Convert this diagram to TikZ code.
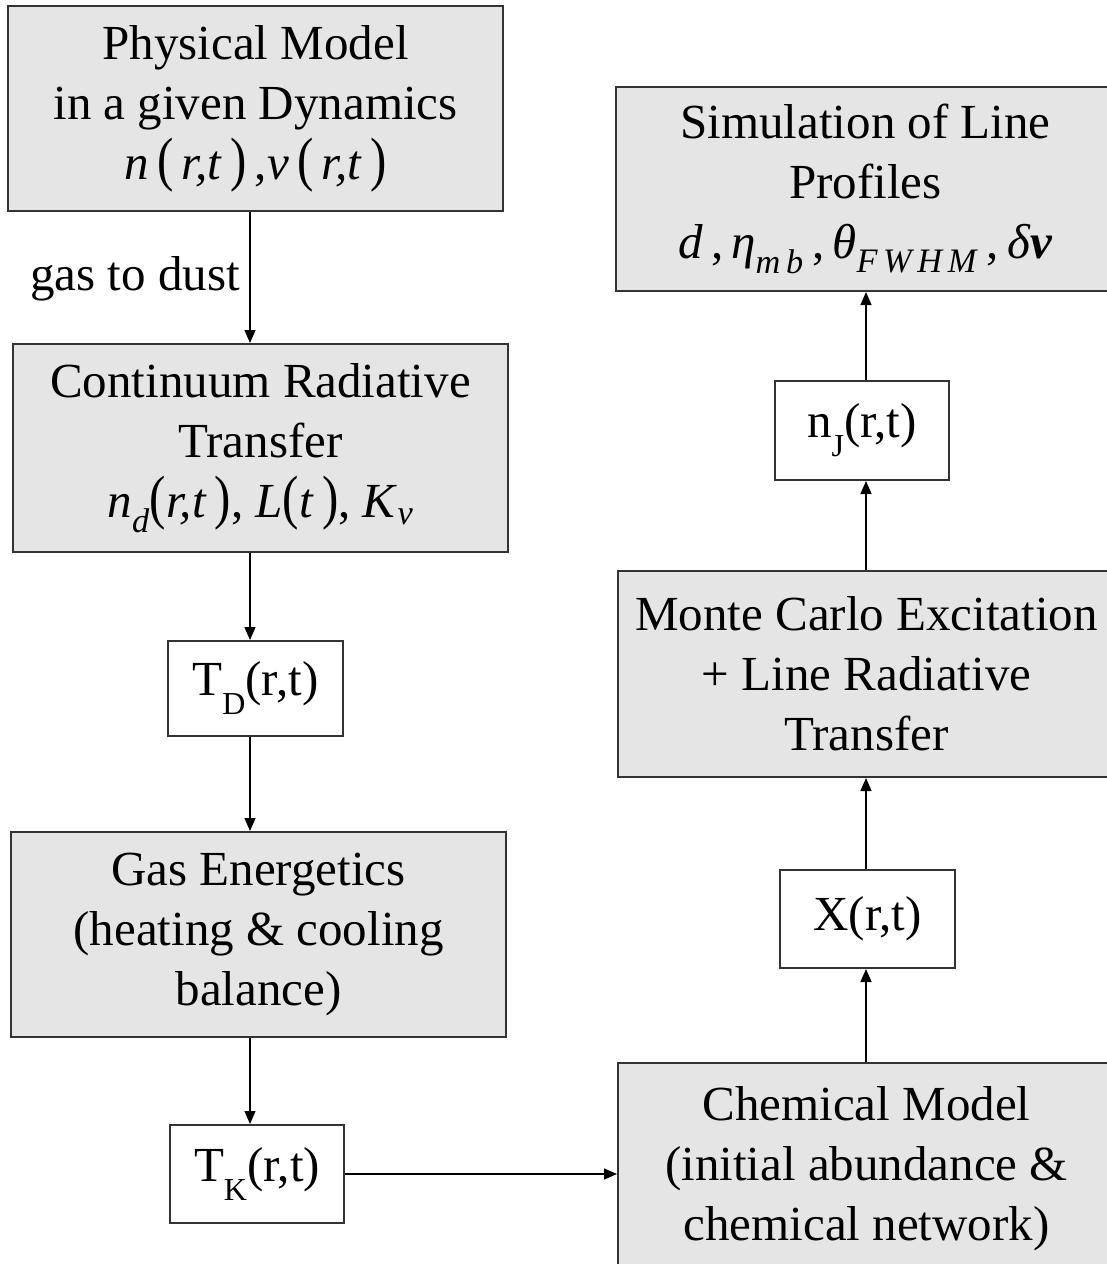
\documentclass[tikz,border=0pt]{standalone}
\usepackage{fontspec}
\usepackage{graphicx}
\setmainfont{Liberation Serif}
\usetikzlibrary{arrows.meta,calc}
\newcommand{\LPar}{\scalebox{1}[1.22]{(}}
\newcommand{\RPar}{\scalebox{1}[1.22]{)}}
\newcommand{\lowsub}[1]{\raisebox{-19pt}{\fontsize{32}{32}\selectfont #1}}
\tikzset{
  bigbox/.style={draw=black!80, line width=2pt, fill=black!10, rectangle, inner sep=0pt, align=center, font=\fontsize{49}{60}\selectfont},
  smallbox/.style={draw=black!80, line width=2pt, fill=white, rectangle, inner sep=0pt, align=center, font=\fontsize{49}{60}\selectfont},
  arr/.style={line width=1.3pt, -{Triangle[length=13pt,width=11pt]}},
  lbl/.style={inner sep=0pt, font=\fontsize{49}{60}\selectfont}
}
\begin{document}
\begin{tikzpicture}[x=1pt,y=-1pt]
\useasboundingbox (0,0) rectangle (1107,1264);
\clip (0,0) rectangle (1107,1264);
\fill[white] (0,0) rectangle (1107,1264);
\coordinate (colL) at (250,0);
\coordinate (colR) at (866,0);
% left column
\node[bigbox, minimum width=495pt, minimum height=205pt] (phys) at (255.5,108.5)
  {Physical Model\\in a given Dynamics\\\textit{n}\,\LPar\,\textit{r,t}\,\RPar\,,\textit{v}\,\LPar\,\textit{r,t}\,\RPar};
\node[bigbox, minimum width=495pt, minimum height=208pt] (cont) at (260.5,448)
  {Continuum Radiative\\Transfer\\\textit{n}\textsubscript{\textit{d}}\LPar\textit{r,t}\,\RPar, \textit{L}\LPar\textit{t}\,\RPar, \textit{K}\textsubscript{\textit{ν}}};
\node[smallbox, minimum width=175pt, minimum height=95pt] (TD) at (255.5,688.5)
  {T\lowsub{D}(r,t)};
\node[bigbox, minimum width=495pt, minimum height=205pt] (gas) at (258.5,934.5)
  {Gas Energetics\\(heating \& cooling\\balance)};
\node[smallbox, minimum width=174pt, minimum height=98pt] (TK) at (257,1174)
  {T\lowsub{K}(r,t)};
% right column
\node[bigbox, minimum width=499pt, minimum height=204pt] (sim) at (865.5,189)
  {Simulation of Line\\Profiles\\\textit{d}\,,\,\textit{η}\textsubscript{\textit{m\,b}}\,,\,\textit{θ}\textsubscript{\textit{F\,W\,H\,M}}\,,\,\textit{δ}\textbf{\textit{v}}};
\node[smallbox, minimum width=174pt, minimum height=99pt] (nJ) at (862,430.5)
  {n\lowsub{J}(r,t)};
\node[bigbox, minimum width=497pt, minimum height=206pt] (MC) at (866.5,674)
  {Monte Carlo Excitation\\+ Line Radiative\\Transfer};
\node[smallbox, minimum width=175pt, minimum height=98pt] (X) at (867.5,919)
  {X(r,t)};
\node[bigbox, minimum width=497pt, minimum height=212pt] (chem) at (866.5,1169)
  {Chemical Model\\(initial abundance \&\\chemical network)};
% label
\node[lbl, anchor=base east] (gtd) at (240,290) {gas to dust};
% connectors
\draw[arr] (phys.south -| colL) -- (cont.north -| colL);
\draw[arr] (cont.south -| colL) -- (TD.north -| colL);
\draw[arr] (TD.south -| colL) -- (gas.north -| colL);
\draw[arr] (gas.south -| colL) -- (TK.north -| colL);
\draw[arr] (TK.east) -- (chem.west |- TK.east);
\draw[arr] (chem.north -| colR) -- (X.south -| colR);
\draw[arr] (X.north -| colR) -- (MC.south -| colR);
\draw[arr] (MC.north -| colR) -- (nJ.south -| colR);
\draw[arr] (nJ.north -| colR) -- (sim.south -| colR);
\end{tikzpicture}
\end{document}
